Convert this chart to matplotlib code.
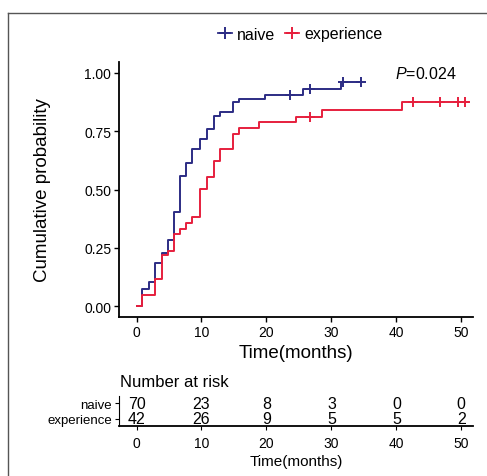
import numpy as np
import matplotlib
matplotlib.use("Agg")
import matplotlib.pyplot as plt
from matplotlib.lines import Line2D

plt.rcParams['font.family'] = ['Liberation Sans', 'DejaVu Sans']
plt.rcParams['mathtext.fontset'] = 'custom'
plt.rcParams['mathtext.it'] = 'Liberation Sans:italic'
plt.rcParams['mathtext.rm'] = 'Liberation Sans'

# curves (cumulative probability)
naive_time = [0, 0.9, 1.9, 2.9, 3.9, 4.9, 5.8, 6.7, 7.6, 8.6, 9.8, 10.8, 11.9,
              12.9, 14.9, 15.8, 19.8, 25.6, 31.5, 34.6]
naive_prob = [0, 0.072, 0.103, 0.186, 0.229, 0.284, 0.404, 0.559, 0.612, 0.673,
              0.716, 0.759, 0.817, 0.831, 0.874, 0.888, 0.905, 0.931, 0.96, 0.96]
naive_cens = [23.6, 26.7, 31.8, 34.6]

exp_time = [0, 0.8, 2.85, 3.9, 4.9, 5.8, 6.7, 7.6, 8.6, 9.8, 10.8, 11.9, 12.9,
            14.9, 15.8, 18.9, 24.6, 28.6, 40.8, 51]
exp_prob = [0, 0.046, 0.117, 0.218, 0.236, 0.308, 0.332, 0.358, 0.380, 0.501,
            0.552, 0.623, 0.673, 0.738, 0.762, 0.788, 0.812, 0.841, 0.874, 0.874]
exp_cens = [26.7, 42.6, 46.7, 49.5, 50.5]

# risk table
risk_times = [0, 10, 20, 30, 40, 50]
naive_risk = [70, 23, 8, 3, 0, 0]
exp_risk = [42, 26, 9, 5, 5, 2]

groups = ['naive', 'experience']
colors = ['#2c2c84', '#e61f3d']
p_text = r'$P$=0.024'


def step_at(t, times, probs):
    idx = np.searchsorted(times, t, side='right') - 1
    return np.asarray(probs)[idx]


W, H = 487, 477
fig = plt.figure(figsize=(W / 100, H / 100), dpi=100)

# frame of the original image
fig.add_artist(Line2D([8 / W, 8 / W], [0, 1 - 14 / H], color='#555555', lw=1.0))
fig.add_artist(Line2D([8 / W, 1], [1 - 14 / H, 1 - 14 / H], color='#555555', lw=1.0))

# main plot
ax = fig.add_axes([119 / W, 1 - 318 / H, 354 / W, 255 / H])
curves = [(naive_time, naive_prob, naive_cens), (exp_time, exp_prob, exp_cens)]
for (t, p, c), col in zip(curves, colors):
    ax.step(t, p, where='post', color=col, lw=1.4)
    ax.plot(c, step_at(c, t, p), '+', color=col, ms=7, mew=1.4)

ax.set_xlim(-2.7, 51.8)
ax.set_ylim(-0.047, 1.047)
ax.set_xticks(risk_times)
ax.set_yticks([0, 0.25, 0.5, 0.75, 1.0])
ax.set_yticklabels(['0.00', '0.25', '0.50', '0.75', '1.00'])
for s in ['top', 'right']:
    ax.spines[s].set_visible(False)
for s in ['left', 'bottom']:
    ax.spines[s].set_linewidth(1.3)
ax.tick_params(labelsize=10, length=3.5, width=1, pad=2)
ax.set_xlabel('Time(months)', fontsize=13.5, labelpad=4)
ax.set_ylabel('Cumulative probability', fontsize=13.5, labelpad=24)
ax.text(39.8, 1.0, p_text, fontsize=11.5, va='center', ha='left')

handles = [Line2D([], [], color=c, marker='+', ms=9, mew=1.4, lw=1.3) for c in colors]
fig.legend(handles, groups, loc='center', bbox_to_anchor=(300 / W, 1 - 35 / H),
           ncol=2, frameon=False, fontsize=11.5, handlelength=0.9,
           handletextpad=0.3, columnspacing=0.6)

# risk table
tx = fig.add_axes([119 / W, 1 - 427 / H, 354 / W, 30 / H])
tx.set_xlim(-2.7, 51.8)
tx.set_ylim(0.56, 2.44)
for i, row in enumerate([naive_risk, exp_risk]):
    for x, n in zip(risk_times, row):
        tx.text(x, 2 - i, str(n), ha='center', va='center', fontsize=11.5)
tx.set_xticks(risk_times)
tx.set_yticks([2, 1])
tx.set_yticklabels(groups)
for s in ['top', 'right']:
    tx.spines[s].set_visible(False)
tx.spines['bottom'].set_linewidth(1.3)
tx.spines['left'].set_linewidth(0.8)
tx.tick_params(axis='x', labelsize=10, length=3, pad=4)
tx.tick_params(axis='y', labelsize=9.5, length=3, pad=2)
tx.set_xlabel('Time(months)', fontsize=11, labelpad=3)
fig.text(120 / W, 1 - 383 / H, 'Number at risk', fontsize=12, ha='left', va='center')

fig.savefig('out.png', dpi=100)
